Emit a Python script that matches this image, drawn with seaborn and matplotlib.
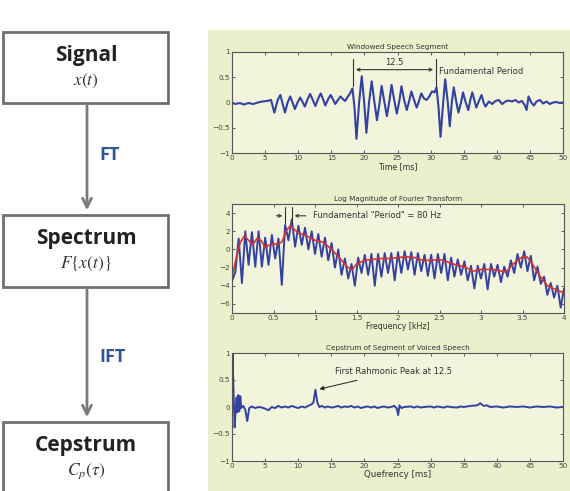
import numpy as np
import seaborn as sns
import matplotlib.pyplot as plt
from matplotlib.patches import Rectangle

# Windowed speech segment (time in ms, amplitude)
time_ms = [0.0, 0.5, 1.2, 1.8, 2.5, 3.2, 3.9, 4.6, 5.3, 5.9, 6.4, 6.9, 7.3, 7.7, 8.0,
           8.4, 8.8, 9.2, 9.5, 9.9, 10.3, 10.7, 11.0, 11.4, 11.8, 12.2, 12.6, 13.0,
           13.4, 13.8, 14.1, 14.5, 14.9, 15.3, 15.6, 16.0, 16.4, 16.8, 17.1, 17.5,
           17.8, 18.2, 18.5, 18.8, 19.2, 19.6, 20.0, 20.3, 20.7, 21.1, 21.5, 21.9,
           22.3, 22.6, 23.0, 23.4, 23.8, 24.1, 24.5, 24.9, 25.3, 25.6, 26.0, 26.4,
           26.8, 27.1, 27.5, 27.9, 28.3, 28.6, 29.0, 29.4, 29.8, 30.2, 30.6, 30.9,
           31.2, 31.5, 31.9, 32.2, 32.6, 32.9, 33.2, 33.5, 33.9, 34.2, 34.6, 34.9,
           35.3, 35.7, 36.0, 36.3, 36.6, 36.9, 37.3, 37.7, 38.0, 38.3, 38.8, 39.3,
           39.8, 40.3, 40.8, 41.3, 41.8, 42.3, 42.8, 43.3, 43.8, 44.2, 44.5, 44.8,
           45.2, 45.6, 46.0, 46.5, 47.0, 47.5, 48.0, 48.5, 49.0, 49.5, 50.0]
amplitude = [0.0, -0.03, -0.01, -0.04, -0.01, -0.03, 0.0, 0.02, 0.03, 0.05, -0.20, 0.05,
             0.15, -0.05, -0.20, 0.0, 0.12, -0.02, -0.13, 0.0, 0.10, 0.0, -0.08, 0.06,
             0.17, 0.05, -0.07, 0.07, 0.18, 0.05, -0.06, 0.06, 0.15, 0.05, -0.03, 0.05,
             0.12, 0.06, 0.03, 0.12, 0.17, 0.28, -0.10, -0.72, 0.0, 0.52, -0.05, -0.60,
             0.0, 0.42, 0.02, -0.35, 0.0, 0.33, 0.02, -0.27, 0.05, 0.35, 0.05, -0.22,
             0.05, 0.32, 0.05, -0.15, 0.05, 0.22, 0.05, -0.10, 0.05, 0.18, 0.08, 0.05,
             0.12, 0.22, 0.20, 0.30, -0.10, -0.68, 0.0, 0.46, 0.0, -0.47, 0.0, 0.30,
             0.0, -0.20, 0.0, 0.20, 0.0, -0.15, 0.05, 0.20, 0.05, -0.10, 0.03, 0.15,
             0.0, -0.08, 0.02, -0.03, 0.03, 0.05, -0.03, 0.02, 0.04, 0.02, 0.05, 0.0,
             0.03, -0.05, -0.15, 0.12, 0.0, -0.06, 0.02, 0.05, -0.02, 0.02, -0.03, 0.0,
             0.01, -0.01, 0.0]

# Log magnitude spectrum (kHz), harmonic tops and valleys
freq_khz = [0.00, 0.04, 0.08, 0.12, 0.16, 0.20, 0.24, 0.28, 0.32, 0.36, 0.40, 0.44,
            0.48, 0.52, 0.56, 0.60, 0.64, 0.68, 0.72, 0.76, 0.80, 0.84, 0.88, 0.92,
            0.96, 1.00, 1.04, 1.08, 1.12, 1.16, 1.20, 1.24, 1.28, 1.32, 1.36, 1.40,
            1.44, 1.48, 1.52, 1.56, 1.60, 1.64, 1.68, 1.72, 1.76, 1.80, 1.84, 1.88,
            1.92, 1.96, 2.00, 2.04, 2.08, 2.12, 2.16, 2.20, 2.24, 2.28, 2.32, 2.36,
            2.40, 2.44, 2.48, 2.52, 2.56, 2.60, 2.64, 2.68, 2.72, 2.76, 2.80, 2.84,
            2.88, 2.92, 2.96, 3.00, 3.04, 3.08, 3.12, 3.16, 3.20, 3.24, 3.28, 3.32,
            3.36, 3.40, 3.44, 3.48, 3.52, 3.56, 3.60, 3.64, 3.68, 3.72, 3.76, 3.80,
            3.84, 3.88, 3.92, 3.96, 4.00]
log_mag = [-3.5, -2.5, 1.2, -3.7, 2.0, -1.7, 1.9, -1.9, 2.0, -1.9, 1.3, -1.7,
           1.6, -1.0, 1.2, -3.9, 2.7, 1.0, 3.3, 0.3, 2.6, 0.5, 2.4, 0.0,
           2.0, -0.5, 1.7, -0.8, 1.3, -1.2, 0.7, -2.0, 0.0, -2.8, -1.0, -3.2,
           -1.6, -4.0, -0.9, -2.6, -0.6, -2.8, -0.5, -4.0, -0.5, -3.0, -0.4, -2.6,
           -0.4, -3.4, -0.3, -2.6, -0.2, -2.2, -0.3, -2.8, -0.4, -2.4, -0.6, -2.9,
           -0.6, -3.2, -0.5, -2.6, -0.5, -3.4, -0.9, -3.0, -1.1, -2.8, -1.3, -3.4,
           -1.8, -4.3, -1.8, -3.2, -1.6, -4.4, -1.6, -3.0, -1.7, -3.6, -1.9, -3.0,
           -1.2, -2.6, -0.5, -2.0, -0.2, -2.4, -0.7, -3.4, -1.9, -3.8, -3.0, -5.0,
           -3.7, -5.3, -4.0, -6.4, -4.3]

# Smoothed (cepstrally liftered) spectrum
smooth_khz = [0.0, 0.05, 0.1, 0.15, 0.2, 0.25, 0.3, 0.35, 0.4, 0.45, 0.5, 0.55, 0.6,
              0.65, 0.7, 0.75, 0.8, 0.9, 1.0, 1.1, 1.2, 1.3, 1.4, 1.45, 1.5, 1.6, 1.7,
              1.8, 1.9, 2.0, 2.1, 2.2, 2.3, 2.4, 2.5, 2.6, 2.7, 2.8, 2.9, 3.0, 3.1, 3.2,
              3.3, 3.4, 3.5, 3.55, 3.6, 3.7, 3.8, 3.9, 4.0]
smooth_mag = [-3.0, -1.0, 0.8, 1.5, 1.0, 0.5, 1.2, 1.0, 0.2, 0.5, 0.6, 0.6, 0.8,
              2.0, 2.6, 2.2, 1.8, 1.5, 1.0, 0.8, 0.0, -1.0, -2.0, -2.2, -1.6, -1.2, -1.1,
              -1.0, -1.0, -0.9, -0.8, -0.9, -1.2, -1.2, -1.1, -1.4, -1.7, -1.9, -2.4, -2.2,
              -2.2, -2.3, -2.5, -1.5, -0.8, -0.8, -1.3, -2.8, -4.0, -4.4, -4.8]

# Cepstrum (quefrency in ms)
quef_ms = [0.0, 0.08, 0.25, 0.4, 0.55, 0.7, 0.8, 0.95, 1.1, 1.25, 1.4, 1.7, 2.0, 2.3,
           2.6, 3.0, 3.5, 4.0, 4.5, 5.0, 5.5, 6.0, 6.5, 7.0, 7.5, 8.0, 8.5, 9.0, 9.5,
           10.0, 10.5, 11.0, 11.5, 12.0, 12.3, 12.6, 12.9, 13.2, 13.6, 14.0, 14.5,
           15.0, 15.5, 16.0, 16.5, 17.0, 17.5, 18.0, 18.5, 19.0, 19.5, 20.0, 20.5,
           21.0, 21.5, 22.0, 22.5, 23.0, 23.5, 24.0, 24.5, 24.9, 25.1, 25.3, 25.6,
           26.0, 27.0, 27.5, 28.0, 28.5, 29.0, 30.0, 30.5, 31.0, 32.0, 32.5, 33.0,
           34.0, 34.5, 35.0, 36.0, 37.0, 37.5, 38.0, 38.5, 39.0, 40.0, 41.0, 42.0,
           43.0, 44.0, 45.0, 46.0, 47.0, 48.0, 49.0, 50.0]
cepstrum = [0.55, 1.0, 0.2, -0.38, -0.05, 0.18, -0.1, 0.22, -0.08, 0.2, -0.02, 0.02,
            -0.05, -0.26, -0.02, 0.01, -0.02, 0.0, -0.01, -0.03, -0.06, 0.0, -0.02,
            0.02, -0.01, 0.01, -0.01, 0.02, 0.0, -0.02, 0.01, -0.01, 0.02, 0.05, 0.08,
            0.32, 0.08, 0.0, 0.02, -0.01, 0.01, -0.01, 0.0, 0.02, -0.01, 0.01, 0.0,
            0.02, -0.01, 0.01, -0.02, 0.0, 0.01, -0.01, 0.01, -0.02, 0.0, 0.01, -0.01,
            0.0, 0.02, -0.03, -0.15, 0.03, -0.02, 0.0, 0.01, -0.01, 0.01, -0.01, 0.0,
            0.01, -0.01, 0.01, -0.01, 0.01, 0.0, -0.01, 0.01, 0.0, 0.02, 0.03, 0.07,
            0.02, 0.03, 0.0, 0.01, -0.01, 0.01, 0.0, 0.01, -0.01, 0.01, 0.0, 0.01,
            -0.01, 0.0]

period_start = 18.3
period_ms = 12.5
f0_left, f0_right = 0.64, 0.72
rahmonic_q, rahmonic_val = 12.6, 0.32

sns.set_theme(style='ticks', rc={'xtick.direction': 'in', 'ytick.direction': 'in',
                                  'xtick.top': True, 'ytick.right': True,
                                  'xtick.major.size': 2.5, 'ytick.major.size': 2.5,
                                  'xtick.major.width': 0.6, 'ytick.major.width': 0.6,
                                  'axes.linewidth': 0.8, 'axes.edgecolor': '#555555'})
plt.rcParams['font.family'] = ['DejaVu Sans']
plt.rcParams['mathtext.fontset'] = 'stix'

fig = plt.figure(figsize=(5.7, 4.91), dpi=100)

# Flowchart + panel background in pixel space
flow = fig.add_axes([0, 0, 1, 1])
flow.set_xlim(0, 570)
flow.set_ylim(491, 0)
flow.axis('off')
flow.add_patch(Rectangle((208, 30), 362, 461, facecolor='#ebefcc', edgecolor='none'))

box_col = '#707070'
boxes = [(32, 103, 'Signal', r'$x(t)$'),
         (215, 287, 'Spectrum', r'$F\{x(t)\}$'),
         (422, 500, 'Cepstrum', r'$C_p(\tau)$')]
for top, bottom, name, sym in boxes:
    flow.add_patch(Rectangle((3, top), 165, bottom - top, facecolor='white',
                             edgecolor=box_col, lw=2))
    flow.text(86, top + 23, name, ha='center', va='center', fontsize=15,
              fontweight='bold', family=['Open Sans', 'DejaVu Sans'], color='#222222')
    flow.text(86, top + 49, sym, ha='center', va='center', fontsize=12.5, color='#333333')

for y0, y1, lab, ly in [(103, 213, 'FT', 155), (287, 420, 'IFT', 357)]:
    flow.annotate('', xy=(87, y1), xytext=(87, y0),
                  arrowprops=dict(arrowstyle='->', color='#7a7a7a', lw=2, mutation_scale=16))
    flow.text(99, ly, lab, ha='left', va='center', fontsize=13, fontweight='bold',
              family=['Open Sans', 'DejaVu Sans'], color='#2f5597')

face = '#f2f5dc'
blue = '#3341a3'
small = 5.2

ax1 = fig.add_axes([232 / 570, 1 - 153 / 491, 331 / 570, 101 / 491])
ax2 = fig.add_axes([232 / 570, 1 - 313 / 491, 332 / 570, 109 / 491])
ax3 = fig.add_axes([232 / 570, 1 - 461 / 491, 331 / 570, 108 / 491])

sns.lineplot(x=time_ms, y=amplitude, ax=ax1, color=blue, lw=1.5, sort=False, estimator=None)
ax1.set_xlim(0, 50)
ax1.set_ylim(-1, 1)
ax1.set_xticks(range(0, 51, 5))
ax1.set_yticks([-1, -0.5, 0, 0.5, 1])
ax1.set_yticklabels(['\u22121', '\u22120.5', '0', '0.5', '1'])
ax1.set_title('Windowed Speech Segment', fontsize=small, pad=2, color='#333333')
ax1.set_xlabel('Time [ms]', fontsize=small + 0.5, labelpad=1, color='#333333')
period_end = period_start + period_ms
for xv in (period_start, period_end):
    ax1.plot([xv, xv], [0.33, 0.87], color='#333333', lw=0.8)
ax1.annotate('', xy=(period_start, 0.65), xytext=(period_end, 0.65),
             arrowprops=dict(arrowstyle='<->', color='#333333', lw=0.8, mutation_scale=5))
ax1.text((period_start + period_end) / 2, 0.8, f'{period_ms}', ha='center', va='center',
         fontsize=small + 0.8, color='#333333')
ax1.text(period_end + 0.5, 0.62, 'Fundamental Period', ha='left', va='center',
         fontsize=small + 0.8, color='#333333')

sns.lineplot(x=freq_khz, y=log_mag, ax=ax2, color=blue, lw=1.4, sort=False, estimator=None)
sns.lineplot(x=smooth_khz, y=smooth_mag, ax=ax2, color='#e0302c', lw=1.2, sort=False,
             estimator=None)
ax2.set_xlim(0, 4)
ax2.set_ylim(-7, 5)
ax2.set_xticks([0, 0.5, 1, 1.5, 2, 2.5, 3, 3.5, 4])
ax2.set_xticklabels(['0', '0.5', '1', '1.5', '2', '2.5', '3', '3.5', '4'])
ax2.set_yticks([-6, -4, -2, 0, 2, 4])
ax2.set_yticklabels(['\u22126', '\u22124', '\u22122', '0', '2', '4'])
ax2.set_title('Log Magnitude of Fourier Transform', fontsize=small, pad=2, color='#333333')
ax2.set_xlabel('Frequency [kHz]', fontsize=small + 0.5, labelpad=1, color='#333333')
for xv in (f0_left, f0_right):
    ax2.plot([xv, xv], [2.9, 4.7], color='#333333', lw=0.8)
ax2.annotate('', xy=(f0_left, 3.7), xytext=(0.5, 3.7),
             arrowprops=dict(arrowstyle='->', color='#333333', lw=0.8, mutation_scale=5))
ax2.annotate('', xy=(f0_right, 3.7), xytext=(0.92, 3.7),
             arrowprops=dict(arrowstyle='->', color='#333333', lw=0.8, mutation_scale=5))
ax2.text(0.98, 3.7, 'Fundamental "Period" = 80 Hz', ha='left', va='center',
         fontsize=small + 0.8, color='#333333')

sns.lineplot(x=quef_ms, y=cepstrum, ax=ax3, color=blue, lw=1.4, sort=False, estimator=None)
ax3.set_xlim(0, 50)
ax3.set_ylim(-1, 1)
ax3.set_xticks(range(0, 51, 5))
ax3.set_yticks([-1, -0.5, 0, 0.5, 1])
ax3.set_yticklabels(['\u22121', '\u22120.5', '0', '0.5', '1'])
ax3.set_title('Cepstrum of Segment of Voiced Speech', fontsize=small, pad=2, color='#333333')
ax3.set_xlabel('Quefrency [ms]', fontsize=small + 1, labelpad=1, color='#333333')
ax3.annotate('First Rahmonic Peak at 12.5', xy=(rahmonic_q + 0.2, rahmonic_val),
             xytext=(15.5, 0.65), fontsize=small + 0.8, color='#333333', va='center',
             arrowprops=dict(arrowstyle='-|>', color='#222222', lw=0.7, mutation_scale=6))

for ax in (ax1, ax2, ax3):
    ax.set_facecolor(face)
    ax.set_ylabel('')
    ax.tick_params(labelsize=small, pad=1.5, colors='#444444')

fig.savefig('out.png', dpi=100)
